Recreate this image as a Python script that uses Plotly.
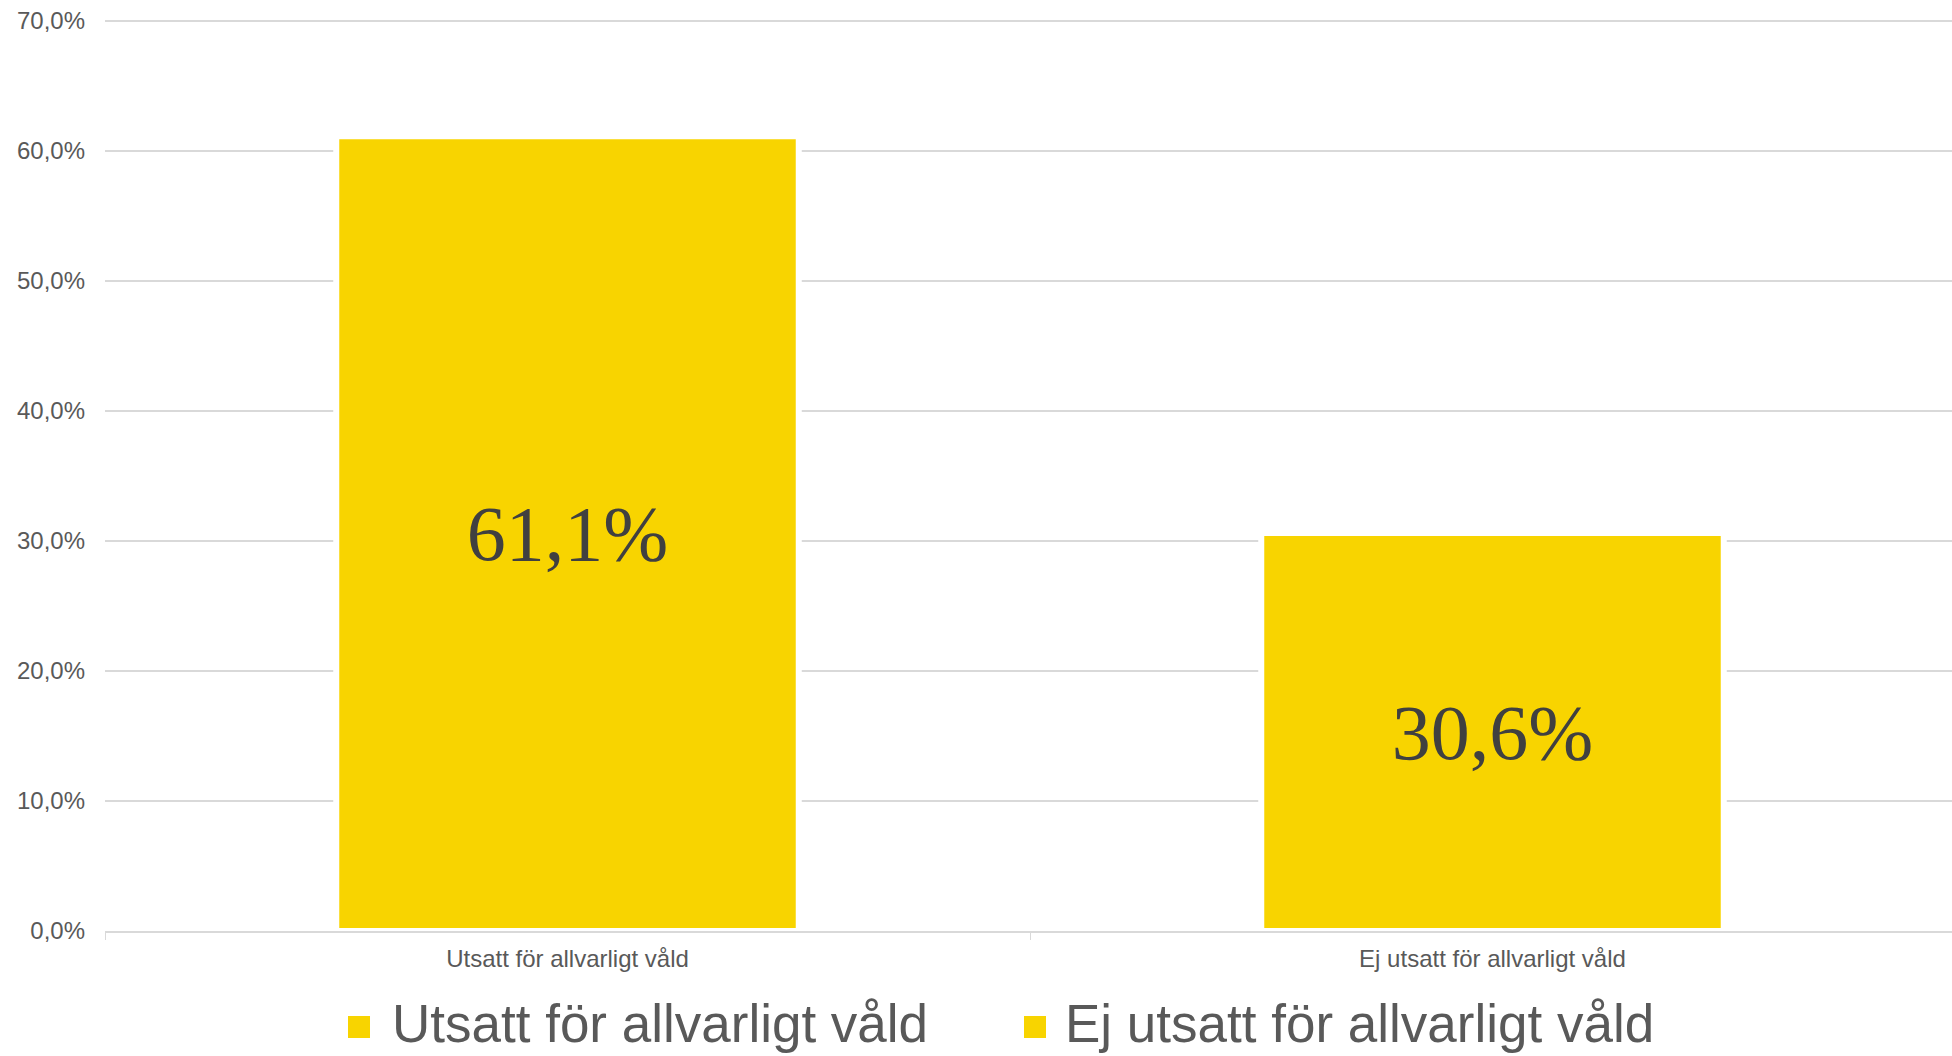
import plotly.graph_objects as go

categories = ["Utsatt för allvarligt våld", "Ej utsatt för allvarligt våld"]
values = [61.1, 30.6]
y_ticks = [0, 10, 20, 30, 40, 50, 60, 70]
y_tick_labels = [f"{v:.1f}%".replace(".", ",") for v in y_ticks]

BAR_COLOR = "#F8D400"
GRID = "#D9D9D9"
TEXT = "#595959"

W, H = 1952, 1056
ML, MR, MT, MB = 105, 0, 18, 125
Y_MAX = 70.2  # a hair above 70 so the top gridline is drawn

fig = go.Figure()
for cat, val in zip(categories, values):
    fig.add_trace(go.Bar(
        x=[cat], y=[val], name=cat,
        width=0.5,
        marker=dict(color=BAR_COLOR, line=dict(color="white", width=6)),
        texttemplate="%{y:.1f}%",
        textposition="inside",
        insidetextanchor="middle",
        textangle=0,
        textfont=dict(family="Liberation Serif", size=78, color="#404040"),
        showlegend=False,
        hoverinfo="skip",
    ))

# px per category chosen so the boundary tick sits at the reference position
unit = 925.0
right = -0.5 + (W - ML - MR) / unit

fig.update_layout(
    width=W, height=H,
    margin=dict(l=ML, r=MR, t=MT, b=MB, pad=0, autoexpand=False),
    paper_bgcolor="white", plot_bgcolor="white",
    barmode="overlay",
    separators=",.",
    font=dict(family="Liberation Sans", color=TEXT),
    showlegend=False,
    xaxis=dict(
        type="category",
        range=[-0.5, right],
        automargin=False,
        showgrid=False,
        showline=True, linecolor=GRID, linewidth=2,
        ticks="outside", tickson="boundaries", ticklen=7, tickcolor=GRID, tickwidth=1,
        tickfont=dict(size=24, color=TEXT),
        ticklabelstandoff=5,
        zeroline=False,
    ),
    yaxis=dict(
        range=[0, Y_MAX],
        automargin=False,
        tickmode="array",
        tickvals=y_ticks,
        ticktext=y_tick_labels,
        ticklabeloverflow="allow",
        showgrid=True, gridcolor=GRID, gridwidth=2,
        zeroline=False,
        showline=False,
        ticks="",
        tickfont=dict(size=24, color=TEXT),
        ticklabelstandoff=19,
    ),
)

# legend drawn manually (larger squares than Plotly's fixed legend symbols)
plot_w = W - ML - MR
plot_h = H - MT - MB
legend_text_y = 1023
legend_sq_y = 1027
legend_items = [(348, 390), (1024, 1063)]
for (sq_x, tx_x), name in zip(legend_items, categories):
    y0 = (H - MB - (legend_sq_y + 11)) / plot_h
    y1 = (H - MB - (legend_sq_y - 11)) / plot_h
    fig.add_shape(type="rect", xref="paper", yref="paper",
                  x0=(sq_x - ML) / plot_w, x1=(sq_x + 22 - ML) / plot_w,
                  y0=y0, y1=y1, fillcolor=BAR_COLOR, line=dict(width=0))
    fig.add_annotation(xref="paper", yref="paper",
                       x=(tx_x - ML) / plot_w, y=(H - MB - legend_text_y) / plot_h,
                       xanchor="left", yanchor="middle", showarrow=False,
                       text=name, font=dict(family="Liberation Sans", size=53, color=TEXT))

# remove the default 8px page margin so the figure fills the window exactly
fig.write_html(
    "out.html",
    config={"displayModeBar": False},
    post_script="document.body.style.margin='0';document.body.style.overflow='hidden';",
)
